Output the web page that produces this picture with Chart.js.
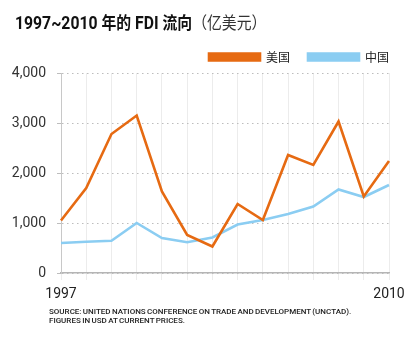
<!DOCTYPE html>
<html>
<head>
<meta charset="utf-8">
<script src="https://cdn.jsdelivr.net/npm/chart.js@4.4.1/dist/chart.umd.min.js"></script>
<style>
  body { margin: 0; background: #fff; }
  #wrap { position: relative; width: 420px; height: 343px; overflow: hidden; }
  #chart { position: absolute; left: 0; top: 0; }
  .title {
    position: absolute; left: 15px; top: 12px; white-space: nowrap;
    font-family: Roboto, "Noto Sans CJK SC", sans-serif;
    font-size: 17.5px; line-height: 20px; font-weight: bold; color: #111;
    transform: scaleX(0.9); transform-origin: left top;
  }
  .title .cjk { font-family: "Noto Sans CJK SC", sans-serif; font-size: 16.5px; }
  .title .unit { font-family: "Noto Sans CJK SC", sans-serif; font-weight: normal; font-size: 16.5px; color: #333; }
  .note {
    position: absolute; left: 49px; top: 308px; white-space: nowrap;
    font-family: Roboto, sans-serif; font-size: 8px; line-height: 8.5px;
    font-weight: 500; color: #222; letter-spacing: 0px; word-spacing: -0.6px;
  }
</style>
</head>
<body>
<div id="wrap">
  <canvas id="chart" width="420" height="343"></canvas>
  <div class="title">1997~2010 <span class="cjk">年的</span> FDI <span class="cjk">流向</span><span class="unit">（亿美元）</span></div>
  <div class="note">SOURCE: UNITED NATIONS CONFERENCE ON TRADE AND DEVELOPMENT (UNCTAD).<br>FIGURES IN USD AT CURRENT PRICES.</div>
</div>
<script>
// FDI inflows, 100 million USD
const years = ['1997', '1998', '1999', '2000', '2001', '2002', '2003',
               '2004', '2005', '2006', '2007', '2008', '2009', '2010'];
const usInflow = [1050, 1700, 2780, 3150, 1630, 760, 530, 1380, 1060, 2360, 2160, 3030, 1530, 2240];
const chinaInflow = [600, 625, 645, 1000, 700, 615, 710, 970, 1060, 1180, 1330, 1670, 1520, 1760];
const yTicks = [0, 1000, 2000, 3000, 4000];
const seriesNames = ['美国', '中国'];

const orange = '#e66a12';
const blue = '#8bcdf2';
const tickFont = { family: 'Roboto, sans-serif', size: 14 };
const legendGap = 18;

// the legend row carries a trailing gap; push it right so the last label ends at the plot edge
const legendShift = {
  id: 'legendShift',
  afterLayout(chart) {
    chart.legend.left += legendGap;
    chart.legend.right += legendGap;
  }
};

new Chart(document.getElementById('chart'), {
  type: 'line',
  data: {
    labels: years,
    datasets: [
      {
        label: seriesNames[0],
        data: usInflow,
        borderColor: orange,
        backgroundColor: orange,
        borderWidth: 2.6,
        pointRadius: 0,
        tension: 0
      },
      {
        label: seriesNames[1],
        data: chinaInflow,
        borderColor: blue,
        backgroundColor: blue,
        borderWidth: 2.6,
        pointRadius: 0,
        tension: 0
      }
    ]
  },
  plugins: [legendShift],
  options: {
    responsive: false,
    devicePixelRatio: 1,
    animation: false,
    layout: { padding: { top: 33, right: 31, bottom: 40, left: 0 } },
    plugins: {
      tooltip: { enabled: false },
      legend: {
        position: 'top',
        align: 'end',
        labels: {
          boxWidth: 51,
          boxHeight: 7,
          padding: legendGap,
          color: '#222',
          font: { family: '"Noto Sans CJK SC", sans-serif', size: 12 }
        }
      }
    },
    scales: {
      x: {
        type: 'category',
        offset: false,
        grid: { color: '#ececec', lineWidth: 1, tickLength: 7, drawTicks: true },
        border: { color: '#b5b5b5', width: 1.5 },
        ticks: {
          autoSkip: false,
          maxRotation: 0,
          padding: 6,
          color: '#222',
          font: tickFont,
          callback: function(value, index) {
            return (index === 0 || index === years.length - 1) ? years[index] : '';
          }
        },
        afterFit: function(scale) { scale.height = 30; }
      },
      y: {
        min: yTicks[0],
        max: yTicks[yTicks.length - 1],
        afterBuildTicks: function(scale) {
          scale.ticks = yTicks.map(v => ({ value: v }));
        },
        grid: { color: '#bdbdbd', lineWidth: 1, tickLength: 4 },
        border: { color: '#c8c8c8', width: 1, dash: [1.5, 3.5] },
        ticks: {
          padding: 11,
          color: '#333',
          font: tickFont,
          callback: function(value) { return value.toLocaleString('en-US'); }
        },
        afterFit: function(scale) { scale.width = 61; }
      }
    }
  }
});
</script>
</body>
</html>
